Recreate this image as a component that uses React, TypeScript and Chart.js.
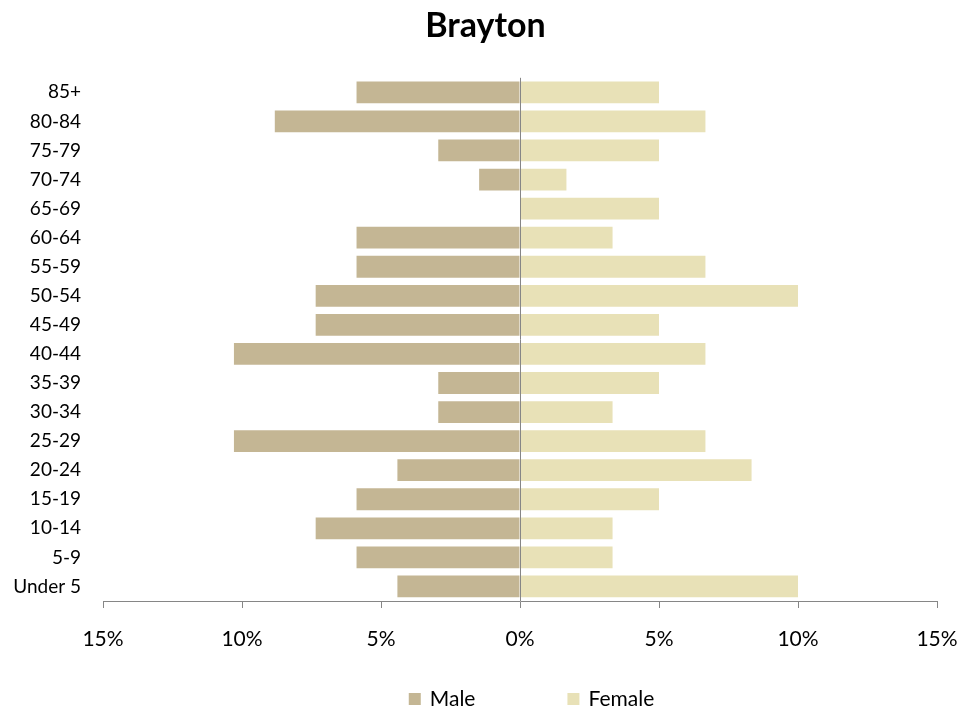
import React, { useEffect, useRef } from "react";
import { Chart, registerables } from "chart.js";

Chart.register(...registerables);

const categories = [
  "85+", "80-84", "75-79", "70-74", "65-69", "60-64", "55-59", "50-54", "45-49",
  "40-44", "35-39", "30-34", "25-29", "20-24", "15-19", "10-14", "5-9", "Under 5",
];
const malePct = [5.88, 8.82, 2.94, 1.47, 0, 5.88, 5.88, 7.35, 7.35, 10.29, 2.94, 2.94, 10.29, 4.41, 5.88, 7.35, 5.88, 4.41];
const femalePct = [5, 6.67, 5, 1.67, 5, 3.33, 6.67, 10, 5, 6.67, 5, 3.33, 6.67, 8.33, 5, 3.33, 3.33, 10];
const xTicks = [-15, -10, -5, 0, 5, 10, 15];
const title = "Brayton";

const FONT = "Lato, 'Liberation Sans', sans-serif";
const AXIS_GREY = "#868686";

const centerLine = {
  id: "centerLine",
  afterDatasetsDraw(chart: any) {
    const { ctx, chartArea, scales } = chart;
    const x = Math.round(scales.x.getPixelForValue(0)) + 0.5;
    ctx.save();
    ctx.strokeStyle = AXIS_GREY;
    ctx.lineWidth = 1;
    ctx.beginPath();
    ctx.moveTo(x, chartArea.top);
    ctx.lineTo(x, chartArea.bottom);
    ctx.stroke();
    ctx.restore();
  },
};

// Legend drawn through Chart.js plugin hook (dataset labels & colours)
const bottomLegend = {
  id: "bottomLegend",
  afterDraw(chart: any) {
    const { ctx } = chart;
    const ds = chart.data.datasets;
    const box = 12;
    const gap = 9;
    const itemSpacing = 92;
    const cy = 699;
    ctx.save();
    ctx.font = `21px ${FONT}`;
    ctx.textBaseline = "middle";
    ctx.textAlign = "left";
    const widths = ds.map((d: any) => box + gap + ctx.measureText(d.label).width);
    const total = widths.reduce((a: number, b: number) => a + b, 0) + itemSpacing * (ds.length - 1);
    let x = 531.5 - total / 2;
    ds.forEach((d: any, i: number) => {
      ctx.fillStyle = d.backgroundColor;
      ctx.fillRect(x, cy - box / 2, box, box);
      ctx.fillStyle = "#000";
      ctx.fillText(d.label, x + box + gap, cy);
      x += widths[i] + itemSpacing;
    });
    ctx.restore();
  },
};

export default function App() {
  const ref = useRef<HTMLCanvasElement>(null);
  useEffect(() => {
    document.body.style.margin = "0";
    const chart = new Chart(ref.current!, {
      type: "bar",
      data: {
        labels: categories,
        datasets: [
          {
            label: "Male",
            data: malePct.map((v) => -v),
            backgroundColor: "#C4B694",
            barPercentage: 0.75,
            categoryPercentage: 1,
          },
          {
            label: "Female",
            data: femalePct,
            backgroundColor: "#E8E1B7",
            barPercentage: 0.75,
            categoryPercentage: 1,
          },
        ],
      },
      options: {
        indexAxis: "y",
        responsive: false,
        animation: false,
        layout: { padding: { left: 0, right: 8, top: 0, bottom: 60 } },
        scales: {
          x: {
            stacked: true,
            min: -15,
            max: 15,
            afterBuildTicks: (axis: any) => {
              axis.ticks = xTicks.map((v) => ({ value: v }));
            },
            afterFit: (axis: any) => {
              axis.height = 52;
            },
            ticks: {
              callback: (v: any) => Math.abs(Number(v)) + "%",
              color: "#000",
              font: { family: FONT, size: 21 },
              padding: 19,
              maxRotation: 0,
            },
            grid: {
              display: true,
              drawOnChartArea: false,
              drawTicks: true,
              tickLength: 7,
              tickColor: AXIS_GREY,
              color: AXIS_GREY,
            },
            border: { display: true, color: AXIS_GREY },
          },
          y: {
            stacked: true,
            afterFit: (axis: any) => {
              axis.width = 103;
            },
            ticks: {
              color: "#000",
              font: { family: FONT, size: 19 },
              padding: 22,
              autoSkip: false,
            },
            grid: { display: false, drawTicks: false },
            border: { display: false },
          },
          yRight: {
            type: "category",
            position: "right",
            display: true,
            afterFit: (axis: any) => {
              axis.width = 34;
            },
            ticks: { display: false },
            grid: { display: false, drawTicks: false },
            border: { display: false },
          },
        },
        plugins: {
          title: {
            display: true,
            text: title,
            color: "#000",
            font: { family: FONT, size: 34, weight: "bold" },
            padding: { top: 6, bottom: 31 },
          },
          legend: { display: false },
          tooltip: { enabled: false },
        },
      },
      plugins: [centerLine, bottomLegend],
    } as any);
    return () => chart.destroy();
  }, []);
  return (
    <div style={{ width: 979, height: 713 }}>
      <canvas ref={ref} width={979} height={713} />
    </div>
  );
}
